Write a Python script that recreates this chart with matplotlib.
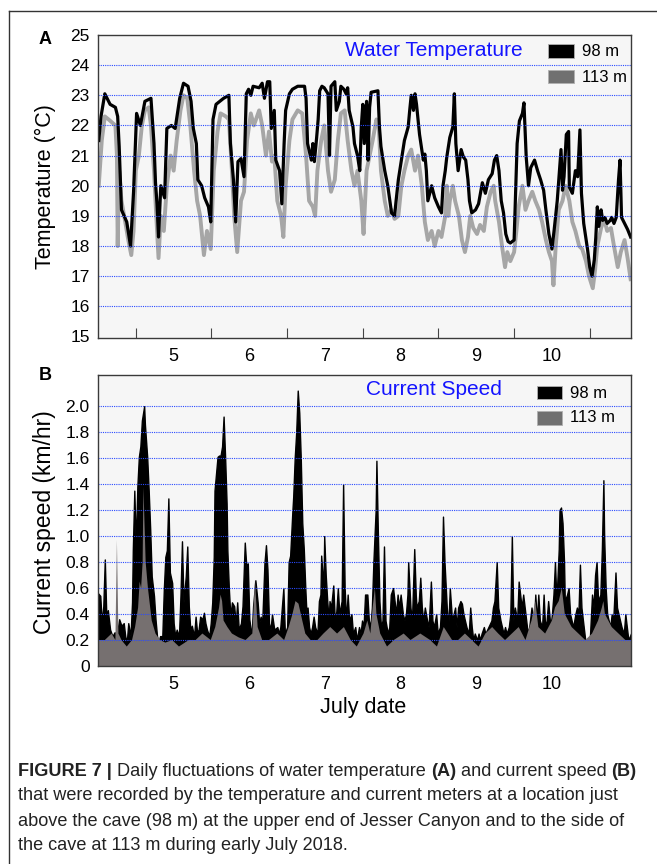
import matplotlib
matplotlib.use("Agg")
import matplotlib.pyplot as plt
from matplotlib.patches import Rectangle
from matplotlib.lines import Line2D

plt.rcParams['font.family'] = ['Liberation Sans', 'DejaVu Sans']

# ---- data (x = July day, fractional) ----
day_edges = [5, 6, 7, 8, 9, 10, 11]
day_mid = [5.5, 6.5, 7.5, 8.5, 9.5, 10.5]
day_labels = ['5', '6', '7', '8', '9', '10']

temp_ticks = [15, 16, 17, 18, 19, 20, 21, 22, 23, 24, 25]
speed_ticks = [0, 0.2, 0.4, 0.6, 0.8, 1.0, 1.2, 1.4, 1.6, 1.8, 2.0]
speed_tick_labels = ['0', '0.2', '0.4', '0.6', '0.8', '1.0', '1.2', '1.4', '1.6', '1.8', '2.0']

# water temperature, 98 m
t_temp98 = [4.51, 4.54, 4.59, 4.66, 4.73, 4.76, 4.78, 4.81, 4.88, 4.93,
            4.97, 5.01, 5.06, 5.12, 5.20, 5.24, 5.26, 5.28, 5.30, 5.33,
            5.38, 5.41, 5.47, 5.52, 5.58, 5.63, 5.69, 5.73, 5.76, 5.80,
            5.82, 5.87, 5.91, 5.96, 5.99, 6.02, 6.06, 6.16, 6.23, 6.25,
            6.29, 6.32, 6.35, 6.39, 6.43, 6.46, 6.49, 6.52, 6.55, 6.63,
            6.67, 6.70, 6.74, 6.77, 6.79, 6.83, 6.85, 6.90, 6.93, 6.96,
            6.98, 7.03, 7.07, 7.14, 7.23, 7.25, 7.27, 7.32, 7.34, 7.36,
            7.39, 7.41, 7.43, 7.46, 7.49, 7.54, 7.56, 7.58, 7.63, 7.65,
            7.69, 7.71, 7.75, 7.78, 7.80, 7.82, 7.87, 7.89, 7.93, 7.96,
            7.98, 8.00, 8.02, 8.05, 8.07, 8.09, 8.11, 8.20, 8.22, 8.24,
            8.29, 8.33, 8.38, 8.42, 8.44, 8.47, 8.51, 8.55, 8.60, 8.62,
            8.64, 8.67, 8.69, 8.71, 8.75, 8.80, 8.82, 8.84, 8.86, 8.91,
            8.95, 9.00, 9.04, 9.06, 9.09, 9.11, 9.15, 9.19, 9.21, 9.23,
            9.26, 9.30, 9.33, 9.36, 9.39, 9.41, 9.44, 9.49, 9.53, 9.58,
            9.62, 9.66, 9.71, 9.74, 9.77, 9.80, 9.83, 9.86, 9.89, 9.92,
            9.95, 10.00, 10.02, 10.04, 10.07, 10.11, 10.13, 10.16, 10.19, 10.22,
            10.25, 10.27, 10.31, 10.35, 10.39, 10.42, 10.46, 10.50, 10.53, 10.57,
            10.62, 10.64, 10.66, 10.69, 10.72, 10.73, 10.77, 10.81, 10.84, 10.87,
            10.89, 10.92, 10.97, 11.00, 11.03, 11.06, 11.08, 11.10, 11.12, 11.15,
            11.17, 11.20, 11.23, 11.27, 11.29, 11.32, 11.35, 11.38, 11.40, 11.42,
            11.46, 11.50, 11.54]
temp98 = [21.5, 22.3, 23.05, 22.7, 22.6, 22.3, 21.3, 19.2, 18.8, 18.0,
          19.8, 22.4, 22.0, 22.8, 22.9, 21.4, 20.1, 19.4, 18.3, 20.0,
          19.6, 21.9, 22.0, 21.9, 22.9, 23.4, 23.3, 22.8, 21.9, 21.4,
          20.2, 20.0, 19.6, 19.3, 18.8, 22.2, 22.7, 22.9, 23.0, 21.4,
          20.2, 18.8, 20.8, 20.9, 20.3, 23.05, 23.2, 23.0, 23.3, 23.25,
          23.4, 22.9, 23.45, 23.45, 21.9, 22.5, 20.85, 20.5, 19.4, 21.4,
          22.5, 23.05, 23.2, 23.3, 23.3, 22.9, 21.4, 20.85, 21.4, 20.8,
          21.6, 22.2, 23.15, 23.3, 23.25, 23.05, 21.0, 23.3, 23.45, 22.5,
          22.8, 23.3, 23.2, 23.05, 23.25, 22.5, 21.95, 21.4, 21.0, 20.5,
          21.95, 22.7, 21.4, 22.8, 20.85, 22.6, 23.1, 23.15, 21.95, 21.3,
          20.5, 20.0, 19.1, 19.0, 19.5, 20.2, 20.85, 21.5, 21.95, 22.5,
          23.0, 22.5, 23.05, 22.7, 21.7, 20.85, 21.05, 20.5, 19.5, 20.0,
          19.6, 19.3, 19.1, 20.0, 20.5, 20.95, 21.6, 21.95, 23.05, 21.4,
          20.5, 21.2, 20.95, 20.85, 20.2, 19.5, 19.1, 19.2, 19.4, 20.1,
          19.75, 20.2, 20.4, 20.85, 21.0, 20.5, 19.5, 19.1, 18.4, 18.15,
          18.1, 18.2, 19.75, 21.4, 22.15, 22.4, 22.75, 20.95, 20.0, 20.6,
          20.75, 20.85, 20.5, 20.2, 19.85, 19.2, 18.4, 17.9, 18.55, 19.5,
          21.2, 19.85, 20.3, 21.7, 21.8, 19.95, 19.75, 20.5, 20.3, 21.85,
          19.75, 18.75, 17.9, 17.3, 17.0, 17.55, 18.3, 19.3, 18.65, 19.2,
          18.85, 18.95, 18.75, 18.85, 18.95, 18.75, 18.95, 20.2, 20.85, 18.95,
          18.75, 18.55, 18.3]

# water temperature, 113 m
t_temp113 = [4.51, 4.55, 4.59, 4.64, 4.73, 4.75, 4.76, 4.78, 4.81, 4.86,
             4.90, 4.94, 4.97, 5.00, 5.04, 5.08, 5.12, 5.17, 5.20, 5.24,
             5.27, 5.30, 5.33, 5.37, 5.41, 5.46, 5.50, 5.54, 5.59, 5.63,
             5.68, 5.72, 5.77, 5.81, 5.85, 5.90, 5.94, 5.99, 6.03, 6.08,
             6.12, 6.19, 6.23, 6.27, 6.30, 6.34, 6.39, 6.43, 6.47, 6.52,
             6.56, 6.63, 6.67, 6.72, 6.76, 6.80, 6.83, 6.87, 6.92, 6.95,
             6.98, 7.03, 7.07, 7.14, 7.20, 7.25, 7.29, 7.34, 7.37, 7.40,
             7.45, 7.49, 7.54, 7.58, 7.63, 7.67, 7.71, 7.76, 7.80, 7.85,
             7.89, 7.93, 7.98, 8.01, 8.05, 8.09, 8.13, 8.18, 8.21, 8.24,
             8.29, 8.33, 8.38, 8.42, 8.47, 8.51, 8.55, 8.60, 8.64, 8.69,
             8.73, 8.78, 8.82, 8.86, 8.91, 8.95, 9.00, 9.04, 9.09, 9.11,
             9.13, 9.15, 9.19, 9.22, 9.27, 9.31, 9.35, 9.39, 9.42, 9.46,
             9.51, 9.55, 9.60, 9.64, 9.69, 9.73, 9.75, 9.80, 9.84, 9.88,
             9.91, 9.95, 10.00, 10.03, 10.06, 10.11, 10.15, 10.19, 10.24, 10.28,
             10.33, 10.37, 10.42, 10.46, 10.50, 10.52, 10.55, 10.59, 10.64, 10.68,
             10.73, 10.77, 10.81, 10.86, 10.90, 10.95, 10.99, 11.04, 11.07, 11.10,
             11.15, 11.19, 11.23, 11.28, 11.32, 11.37, 11.41, 11.46, 11.50, 11.54]
temp113 = [20.0, 21.5, 22.3, 22.2, 22.0, 21.0, 18.0, 20.5, 19.5, 18.8,
           18.2, 17.7, 18.5, 20.5, 21.0, 22.0, 22.5, 22.6, 22.0, 20.5,
           19.0, 17.6, 19.0, 18.5, 20.0, 21.0, 20.5, 21.5, 22.5, 23.0,
           22.9, 22.0, 20.5, 19.5, 19.0, 17.7, 18.5, 17.9, 20.5, 21.8,
           22.4, 22.3, 22.2, 20.5, 19.0, 17.8, 19.5, 19.8, 21.5, 22.4,
           22.0, 22.5, 22.0, 21.0, 21.8, 20.8, 21.0, 19.5, 19.0, 18.3,
           20.0, 21.5, 22.2, 22.5, 22.4, 21.0, 19.5, 19.3, 19.0, 20.5,
           21.5, 22.0, 20.5, 19.8, 20.2, 21.5, 22.4, 22.5, 21.5, 20.5,
           20.0, 20.5, 19.5, 18.4, 20.5, 21.0, 21.5, 22.2, 22.0, 20.5,
           19.5, 19.0, 19.2, 18.9, 19.0, 20.0, 20.5, 21.0, 21.2, 20.5,
           21.0, 20.0, 18.8, 18.2, 18.5, 18.0, 18.5, 18.3, 19.0, 20.0,
           19.0, 19.5, 20.0, 19.5, 19.0, 18.2, 17.8, 18.3, 19.0, 18.6,
           18.4, 18.7, 18.5, 19.3, 19.8, 20.0, 19.5, 18.8, 18.0, 17.3,
           17.8, 17.5, 17.8, 18.5, 19.3, 20.0, 19.2, 19.5, 19.8, 19.5,
           19.2, 18.8, 18.2, 17.8, 17.5, 16.7, 18.0, 19.2, 19.5, 20.0,
           19.5, 18.8, 18.5, 18.0, 17.9, 17.5, 17.0, 16.6, 17.2, 18.0,
           18.6, 18.9, 18.5, 18.6, 18.0, 17.3, 17.8, 18.2, 17.6, 16.9]

# current speed, 98 m
t_speed98 = [4.50, 4.53, 4.55, 4.57, 4.59, 4.61, 4.63, 4.66, 4.69, 4.72,
             4.74, 4.78, 4.81, 4.84, 4.86, 4.88, 4.90, 4.93, 4.95, 4.96,
             4.98, 5.00, 5.02, 5.04, 5.06, 5.08, 5.11, 5.12, 5.15, 5.17,
             5.19, 5.21, 5.24, 5.26, 5.28, 5.30, 5.32, 5.35, 5.37, 5.39,
             5.41, 5.43, 5.45, 5.48, 5.50, 5.52, 5.54, 5.57, 5.59, 5.61,
             5.63, 5.66, 5.68, 5.70, 5.72, 5.74, 5.77, 5.79, 5.81, 5.83,
             5.85, 5.88, 5.90, 5.92, 5.94, 5.97, 5.99, 6.01, 6.03, 6.04,
             6.06, 6.08, 6.10, 6.12, 6.14, 6.16, 6.18, 6.20, 6.21, 6.23,
             6.25, 6.27, 6.30, 6.32, 6.34, 6.36, 6.39, 6.41, 6.44, 6.46,
             6.48, 6.50, 6.53, 6.55, 6.57, 6.58, 6.61, 6.63, 6.65, 6.67,
             6.70, 6.72, 6.74, 6.76, 6.78, 6.80, 6.83, 6.87, 6.89, 6.91,
             6.95, 6.97, 7.00, 7.02, 7.04, 7.07, 7.08, 7.10, 7.12, 7.14,
             7.16, 7.18, 7.20, 7.22, 7.24, 7.26, 7.27, 7.29, 7.31, 7.33,
             7.35, 7.37, 7.40, 7.42, 7.44, 7.45, 7.48, 7.49, 7.51, 7.53,
             7.55, 7.56, 7.58, 7.61, 7.63, 7.65, 7.67, 7.69, 7.72, 7.74,
             7.76, 7.78, 7.80, 7.82, 7.85, 7.87, 7.90, 7.92, 7.95, 7.97,
             7.99, 8.01, 8.03, 8.06, 8.08, 8.10, 8.12, 8.14, 8.17, 8.18,
             8.20, 8.22, 8.24, 8.26, 8.28, 8.30, 8.33, 8.35, 8.37, 8.40,
             8.42, 8.44, 8.46, 8.48, 8.50, 8.53, 8.55, 8.57, 8.59, 8.60,
             8.63, 8.65, 8.68, 8.70, 8.71, 8.74, 8.76, 8.78, 8.80, 8.82,
             8.85, 8.87, 8.90, 8.92, 8.94, 8.97, 8.99, 9.02, 9.04, 9.06,
             9.08, 9.11, 9.13, 9.15, 9.18, 9.20, 9.22, 9.24, 9.26, 9.29,
             9.31, 9.33, 9.35, 9.37, 9.40, 9.42, 9.44, 9.46, 9.48, 9.51,
             9.53, 9.55, 9.57, 9.60, 9.62, 9.66, 9.70, 9.72, 9.74, 9.77,
             9.79, 9.82, 9.84, 9.86, 9.88, 9.90, 9.93, 9.95, 9.97, 9.99,
             10.01, 10.04, 10.06, 10.08, 10.10, 10.12, 10.15, 10.17, 10.19, 10.21,
             10.23, 10.26, 10.28, 10.30, 10.32, 10.34, 10.37, 10.39, 10.41, 10.43,
             10.45, 10.48, 10.50, 10.52, 10.54, 10.56, 10.59, 10.60, 10.62, 10.64,
             10.66, 10.67, 10.70, 10.72, 10.74, 10.76, 10.78, 10.81, 10.83, 10.85,
             10.87, 10.89, 10.92, 10.94, 10.96, 10.98, 11.00, 11.03, 11.05, 11.07,
             11.09, 11.11, 11.14, 11.16, 11.18, 11.19, 11.21, 11.23, 11.25, 11.27,
             11.29, 11.31, 11.34, 11.36, 11.38, 11.40, 11.42, 11.45, 11.47, 11.49,
             11.51, 11.545]
speed98 = [0.56, 0.54, 0.33, 0.46, 0.82, 0.38, 0.43, 0.28, 0.23, 0.26,
           0.20, 0.36, 0.31, 0.33, 0.23, 0.18, 0.33, 0.23, 0.49, 0.89,
           1.35, 0.92, 1.38, 1.61, 1.69, 1.89, 2.00, 1.86, 1.61, 1.35,
           1.05, 0.69, 0.54, 0.36, 0.23, 0.18, 0.23, 0.23, 0.59, 0.84,
           0.89, 1.29, 0.72, 0.64, 0.33, 0.23, 0.28, 0.23, 0.54, 0.96,
           0.49, 0.69, 0.92, 0.46, 0.28, 0.31, 0.23, 0.38, 0.26, 0.28,
           0.38, 0.36, 0.41, 0.33, 0.28, 0.23, 0.33, 0.49, 0.84, 1.35,
           1.48, 1.61, 1.62, 1.62, 1.69, 1.92, 1.61, 1.25, 0.89, 0.59,
           0.38, 0.49, 0.46, 0.33, 0.49, 0.28, 0.33, 0.46, 0.95, 0.77,
           0.79, 0.36, 0.23, 0.46, 0.59, 0.66, 0.49, 0.33, 0.38, 0.33,
           0.79, 0.93, 0.74, 0.33, 0.28, 0.40, 0.28, 0.30, 0.25, 0.30,
           0.60, 0.25, 0.30, 0.80, 0.85, 1.20, 1.30, 1.60, 1.80, 2.12,
           1.95, 1.60, 1.10, 0.90, 0.60, 0.35, 0.45, 0.30, 0.25, 0.30,
           0.38, 0.30, 0.25, 0.50, 0.55, 0.85, 0.60, 1.00, 0.70, 0.50,
           0.35, 0.50, 0.45, 0.62, 0.35, 0.42, 0.60, 0.40, 0.50, 1.40,
           0.60, 0.35, 0.55, 0.35, 0.40, 0.25, 0.30, 0.20, 0.30, 0.25,
           0.35, 0.30, 0.55, 0.55, 0.35, 0.30, 0.45, 0.80, 1.20, 1.58,
           1.00, 0.50, 0.30, 0.35, 0.92, 0.35, 0.25, 0.30, 0.55, 0.60,
           0.50, 0.40, 0.55, 0.45, 0.55, 0.40, 0.35, 0.40, 0.55, 0.80,
           0.45, 0.35, 0.90, 0.55, 0.45, 0.50, 0.68, 0.45, 0.35, 0.45,
           0.35, 0.30, 0.65, 0.35, 0.30, 0.40, 0.25, 0.30, 0.50, 1.15,
           0.80, 0.45, 0.30, 0.60, 0.35, 0.40, 0.45, 0.30, 0.45, 0.50,
           0.48, 0.40, 0.35, 0.30, 0.25, 0.45, 0.30, 0.20, 0.25, 0.20,
           0.25, 0.20, 0.25, 0.30, 0.25, 0.30, 0.35, 0.45, 0.50, 0.80,
           0.45, 0.35, 0.30, 0.25, 0.30, 0.25, 0.30, 0.40, 1.00, 0.35,
           0.45, 0.35, 0.65, 0.55, 0.45, 0.55, 0.40, 0.30, 0.25, 0.35,
           0.45, 0.30, 0.55, 0.35, 0.55, 0.35, 0.30, 0.55, 0.30, 0.35,
           0.50, 0.30, 0.40, 0.55, 0.80, 0.50, 0.90, 1.20, 1.22, 1.10,
           0.80, 0.50, 0.55, 0.60, 0.40, 0.35, 0.30, 0.40, 0.45, 0.40,
           0.78, 0.45, 0.30, 0.20, 0.15, 0.15, 0.20, 0.55, 0.45, 0.70,
           0.80, 0.50, 0.55, 0.90, 1.43, 1.00, 0.60, 0.40, 0.35, 0.30,
           0.40, 0.35, 0.72, 0.45, 0.40, 0.35, 0.30, 0.25, 0.40, 0.30,
           0.20, 0.25]

# current speed, 113 m
t_speed113 = [4.50, 4.59, 4.68, 4.73, 4.75, 4.77, 4.81, 4.88, 4.95, 4.99,
              5.03, 5.05, 5.07, 5.09, 5.10, 5.12, 5.13, 5.16, 5.19, 5.21,
              5.26, 5.32, 5.39, 5.48, 5.57, 5.70, 5.79, 5.88, 5.99, 6.05,
              6.10, 6.12, 6.14, 6.16, 6.21, 6.27, 6.36, 6.45, 6.54, 6.575,
              6.61, 6.67, 6.76, 6.87, 6.96, 7.02, 7.07, 7.11, 7.15, 7.20,
              7.24, 7.31, 7.40, 7.48, 7.57, 7.66, 7.75, 7.84, 7.92, 8.01,
              8.06, 8.10, 8.13, 8.16, 8.18, 8.23, 8.32, 8.41, 8.54, 8.63,
              8.76, 8.89, 8.98, 9.07, 9.18, 9.26, 9.35, 9.44, 9.53, 9.62,
              9.71, 9.79, 9.88, 9.97, 10.06, 10.15, 10.23, 10.28, 10.32, 10.41,
              10.50, 10.54, 10.59, 10.63, 10.67, 10.76, 10.85, 10.94, 11.03, 11.11,
              11.16, 11.18, 11.20, 11.29, 11.38, 11.47, 11.545]
speed113 = [0.20, 0.20, 0.25, 0.20, 0.97, 0.25, 0.20, 0.15, 0.20, 0.30,
            0.45, 0.65, 0.60, 0.80, 1.38, 1.00, 0.80, 0.60, 0.45, 0.35,
            0.25, 0.20, 0.18, 0.20, 0.15, 0.20, 0.20, 0.25, 0.20, 0.30,
            0.45, 0.55, 0.50, 0.35, 0.30, 0.25, 0.22, 0.20, 0.25, 0.66,
            0.30, 0.20, 0.20, 0.25, 0.20, 0.30, 0.40, 0.50, 0.48, 0.35,
            0.25, 0.20, 0.20, 0.25, 0.30, 0.25, 0.30, 0.20, 0.15, 0.25,
            0.35, 0.25, 0.45, 0.60, 0.40, 0.25, 0.15, 0.20, 0.25, 0.20,
            0.25, 0.20, 0.15, 0.30, 0.20, 0.20, 0.25, 0.20, 0.15, 0.25,
            0.30, 0.25, 0.20, 0.25, 0.30, 0.20, 0.35, 0.50, 0.30, 0.25,
            0.35, 0.45, 0.50, 0.60, 0.40, 0.30, 0.25, 0.20, 0.25, 0.35,
            0.45, 0.50, 0.40, 0.30, 0.25, 0.20, 0.20]

caption_lines = [
    [("FIGURE 7 |", True), ("Daily fluctuations of water temperature", False), ("(A)", True),
     ("and current speed", False), ("(B)", True)],
    [("that were recorded by the temperature and current meters at a location just", False)],
    [("above the cave (98 m) at the upper end of Jesser Canyon and to the side of", False)],
    [("the cave at 113 m during early July 2018.", False)],
]

# ---- figure ----
W, H = 657, 864
fig = plt.figure(figsize=(W / 100, H / 100), dpi=100)


def fx(px):
    return px / W


def fy(py):
    return 1 - py / H


axA = fig.add_axes([fx(98), fy(338), (631 - 98) / W, (338 - 35) / H])
axB = fig.add_axes([fx(98), fy(666), (631 - 98) / W, (666 - 375) / H])

grid_blue = '#2a4bff'


def style_axis(ax, grid_levels):
    ax.set_facecolor('#f6f6f6')
    for s in ax.spines.values():
        s.set_color('#3a3a3a')
        s.set_linewidth(1.0)
        s.set_zorder(3)
    ax.set_xlim(4.5, 11.545)
    ax.set_xticks(day_edges)
    ax.set_xticklabels([])
    ax.set_xticks(day_mid, minor=True)
    ax.set_xticklabels(day_labels, minor=True)
    ax.tick_params(axis='x', which='major', direction='in', length=7, width=0.8, color='#444444')
    ax.tick_params(axis='x', which='minor', length=0, pad=7, labelsize=13)
    ax.tick_params(axis='y', length=0, pad=6, labelsize=12.5)
    for g in grid_levels:
        ax.axhline(g, color=grid_blue, linestyle=(0, (1, 1)), linewidth=0.8, zorder=2.5)


# panel A
style_axis(axA, temp_ticks[1:-1])
axA.set_ylim(14.95, 25.0)
axA.set_yticks(temp_ticks)
axA.plot(t_temp113, temp113, color='#a6a6a6', lw=2.8, zorder=1.8)
axA.plot(t_temp98, temp98, color='black', lw=2.3, zorder=2)

# panel B
style_axis(axB, speed_ticks[1:])
axB.set_ylim(0, 2.24)
axB.set_yticks(speed_ticks)
axB.set_yticklabels(speed_tick_labels)
axB.fill_between(t_speed98, 0, speed98, facecolor='black', edgecolor='black', lw=1.0, zorder=1.5)
axB.fill_between(t_speed113, 0, speed113, facecolor='#767070', edgecolor='none', zorder=1.7)

# labels
fig.text(fx(45), fy(187), 'Temperature (°C)', rotation=90, ha='center', va='center', fontsize=15.5)
fig.text(fx(45), fy(522), 'Current speed (km/hr)', rotation=90, ha='center', va='center', fontsize=16.5)
fig.text(fx(363), fy(708), 'July date', ha='center', va='center', fontsize=15.5)
fig.text(fx(45), fy(40), 'A', ha='center', va='center', fontsize=13, fontweight='bold')
fig.text(fx(45), fy(375), 'B', ha='center', va='center', fontsize=13, fontweight='bold')
fig.text(fx(434), fy(50), 'Water Temperature', ha='center', va='center', fontsize=15, color='#1414ff')
fig.text(fx(434), fy(390), 'Current Speed', ha='center', va='center', fontsize=15, color='#1414ff')


# legends drawn by hand (pixel boxes)
def legend_box(x0, y0, x1, y1, color):
    fig.add_artist(Rectangle((fx(x0), fy(y1)), (x1 - x0) / W, (y1 - y0) / H,
                             transform=fig.transFigure, facecolor=color,
                             edgecolor='#b0b0b0', linewidth=0.6))


legend_box(548, 44, 574, 58, 'black')
legend_box(548, 70, 574, 83, '#707070')
fig.text(fx(582), fy(51), '98 m', ha='left', va='center', fontsize=12)
fig.text(fx(582), fy(77), '113 m', ha='left', va='center', fontsize=12)

legend_box(537, 386, 562, 399, 'black')
legend_box(537, 411, 562, 425, '#707070')
fig.text(fx(570), fy(393), '98 m', ha='left', va='center', fontsize=12)
fig.text(fx(570), fy(418), '113 m', ha='left', va='center', fontsize=12)

# outer frame (cropped on right/bottom)
fig.add_artist(Line2D([fx(8.5), 1.0], [fy(10.5), fy(10.5)], transform=fig.transFigure, color='#333333', lw=1.0))
fig.add_artist(Line2D([fx(8.5), fx(8.5)], [fy(10.5), 0.0], transform=fig.transFigure, color='#333333', lw=1.0))

# caption with bold pieces
renderer = fig.canvas.get_renderer()
cap_size = 13.1
probe1 = fig.text(0, 0, 'x x', fontsize=cap_size)
probe2 = fig.text(0, 0, 'xx', fontsize=cap_size)
space_w = (probe1.get_window_extent(renderer).width - probe2.get_window_extent(renderer).width) / W
probe1.remove()
probe2.remove()

for i, segs in enumerate(caption_lines):
    x = fx(18)
    y = fy(771 + 25 * i)
    for s, bold in segs:
        t = fig.text(x, y, s, ha='left', va='center', fontsize=cap_size, color='#222222',
                     fontweight='bold' if bold else 'normal')
        x += t.get_window_extent(renderer).width / W + space_w

fig.savefig('out.png', dpi=100)
